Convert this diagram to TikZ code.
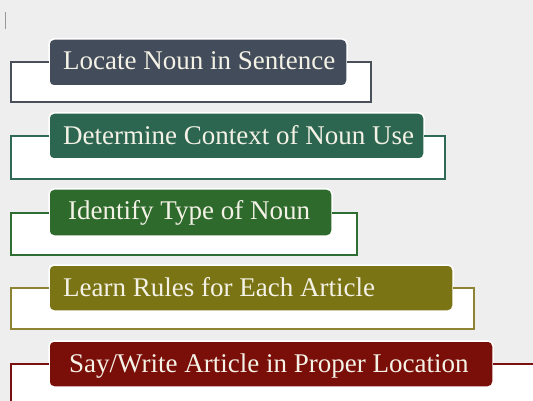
\documentclass[tikz,border=0pt]{standalone}
\usepackage{fontspec}
\setmainfont{Liberation Serif}
\definecolor{bg}{HTML}{EEEEEE}
\definecolor{cA}{HTML}{434C5A}
\definecolor{cB}{HTML}{2C6650}
\definecolor{cC}{HTML}{2D6A2C}
\definecolor{cD}{HTML}{7B7415}
\definecolor{cE}{HTML}{7A0E08}
\definecolor{fA}{HTML}{4A5059}
\definecolor{fB}{HTML}{2F6A55}
\definecolor{fC}{HTML}{2F6E33}
\definecolor{fD}{HTML}{8C8433}
\definecolor{fE}{HTML}{7A1010}
\definecolor{txt}{HTML}{F4F2E6}
\tikzset{
  stepbox/.style={rectangle, rounded corners=5pt, draw=white, line width=1.5pt, inner sep=0pt, outer sep=0pt},
  lbl/.style={inner sep=0pt, anchor=base west, text=txt, font=\fontsize{27}{31}\selectfont},
  frame/.style={line width=2pt, line join=miter},
}
\begin{document}
\begin{tikzpicture}[x=1pt,y=-1pt]
\useasboundingbox (0,0) rectangle (533,401);
\fill[bg] (0,0) rectangle (533,401);
% cursor mark
\draw[gray!80, line width=1pt] (5.5,12) -- (5.5,29);
% white fills of frames
\fill[white] (11,62) rectangle (371,102);
\fill[white] (11,136) rectangle (445,179);
\fill[white] (11,212) rectangle (357,255);
\fill[white] (11,289) rectangle (474,329);
\fill[white] (11,364) rectangle (533,401);
% boxes
\node[stepbox, fill=cA, minimum width=298pt, minimum height=47pt] (b1) at (198,62.5) {};
\node[stepbox, fill=cB, minimum width=375pt, minimum height=46pt] (b2) at (236.5,136) {};
\node[stepbox, fill=cC, minimum width=283pt, minimum height=47pt] (b3) at (190.5,212.5) {};
\node[stepbox, fill=cD, minimum width=404pt, minimum height=46pt] (b4) at (251,288) {};
\node[stepbox, fill=cE, minimum width=444pt, minimum height=46pt] (b5) at (271,364) {};
% labels
\node[lbl] (t1) at (63,69.5) {Locate Noun in Sentence};
\node[lbl] (t2) at (63,145) {Determine Context of Noun Use};
\node[lbl] (t3) at (68,219) {Identify Type of Noun};
\node[lbl] (t4) at (63,296) {Learn Rules for Each Article};
\node[lbl] (t5) at (69,372) {Say/Write Article in Proper Location};
% frames
\coordinate (e5) at (533,364);
\coordinate (d5) at (11,401);
\draw[frame, fA] (b1.west) -- (11,62.5) |- (371,102) |- (b1.east);
\draw[frame, fB] (b2.west) -- (11,136) |- (445,179) |- (b2.east);
\draw[frame, fC] (b3.west) -- (11,212.5) |- (357,255) |- (b3.east);
\draw[frame, fD] (b4.west) -- (11,288) |- (474,329) |- (b4.east);
\draw[frame, fE] (b5.west) -| (d5);
\draw[frame, fE] (b5.east) -- (e5);
\end{tikzpicture}
\end{document}
